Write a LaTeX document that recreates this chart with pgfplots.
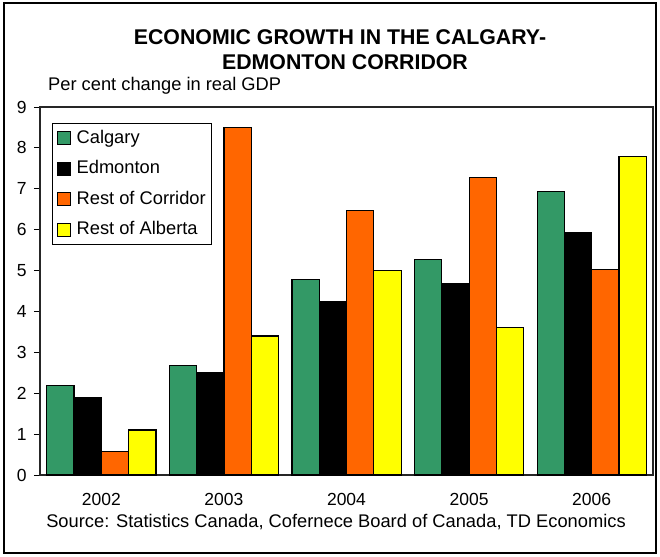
\documentclass[border=0pt]{standalone}
\usepackage{pgfplots}
\pgfplotsset{compat=1.18}
\usepackage{fontspec}
\setmainfont{Liberation Sans}
\definecolor{cgreen}{RGB}{51,153,102}
\definecolor{corange}{RGB}{255,102,0}
\definecolor{cyellow}{RGB}{255,255,0}
\begin{document}
\fontsize{18.3}{22}\selectfont
\begin{tikzpicture}
\useasboundingbox (-40pt,-81pt) rectangle (620pt,475pt);
\draw[line width=1.5pt] (-36pt,-78pt) rectangle (616pt,472pt);
\begin{axis}[
  at={(0pt,0pt)}, anchor=south west,
  scale only axis, width=613pt, height=368pt,
  ymin=0, ymax=9, ytick={0,1,...,9},
  xmin=-0.5, xmax=4.5,
  xtick={0,1,2,3,4}, xticklabels={2002,2003,2004,2005,2006},
  major x tick style={draw=none},
  ytick style={black, line width=1pt},
  ytick pos=left,
  tick align=outside, major tick length=6pt,
  y tick label style={xshift=-1pt},
  x tick label style={yshift=-6pt},
  /pgf/number format/assume math mode=true,
  ticklabel style={font=\fontsize{17.5}{21}\selectfont},
  axis line style={line width=1.2pt, black!85},
  ybar=0pt, bar width=27.3pt,
  every axis plot/.append style={draw=black, line width=1.2pt},
  legend style={at={(axis description cs:0.0196,0.9565)}, anchor=north west,
    draw=black, line width=1.2pt, font=\fontsize{18.3}{22}\selectfont,
    row sep=10.5pt, inner xsep=4pt, inner ysep=4.5pt, cells={anchor=west},
    /tikz/every odd column/.style={column sep=4pt},
    /tikz/every even column/.style={column sep=0pt}},
  legend cell align=left,
  legend image code/.code={\draw[#1, line width=1pt] (0pt,-6.5pt) rectangle (13pt,6.5pt);},
]
\addplot[fill=cgreen] coordinates {(0,2.18) (1,2.68) (2,4.79) (3,5.28) (4,6.94)};
\addplot[fill=black] coordinates {(0,1.89) (1,2.50) (2,4.24) (3,4.68) (4,5.93)};
\addplot[fill=corange] coordinates {(0,0.58) (1,8.50) (2,6.46) (3,7.28) (4,5.02)};
\addplot[fill=cyellow] coordinates {(0,1.10) (1,3.40) (2,5.01) (3,3.61) (4,7.79)};
\legend{Calgary,Edmonton,Rest of Corridor,Rest of Alberta}
\end{axis}
\node[font=\bfseries\fontsize{21.3}{25}\selectfont] at (300pt,438pt) {ECONOMIC GROWTH IN THE CALGARY-};
\node[font=\bfseries\fontsize{21.3}{25}\selectfont] at (305pt,413pt) {EDMONTON CORRIDOR};
\node[anchor=west, inner sep=0pt] at (8pt,389pt) {Per cent change in real GDP};
\node at (296pt,-47pt) {Source: Statistics Canada, Cofernece Board of Canada, TD Economics};
\end{tikzpicture}
\end{document}
